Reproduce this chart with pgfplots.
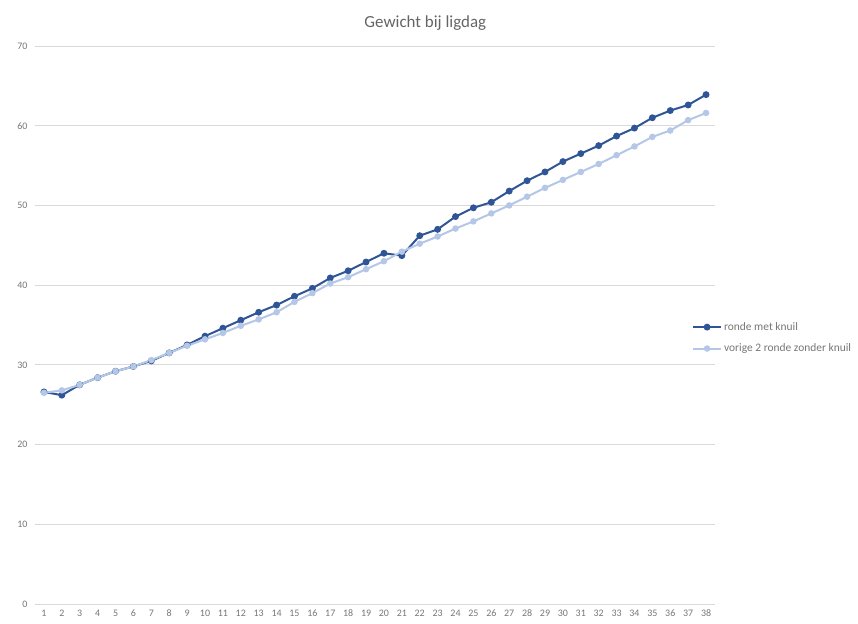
\documentclass[border=0pt]{standalone}
\usepackage{fontspec}
\setmainfont{Carlito}
\usepackage{pgfplots}
\pgfplotsset{compat=1.18}
\definecolor{darkser}{RGB}{47,85,151}
\definecolor{lightser}{RGB}{180,199,231}
\definecolor{gridgray}{RGB}{217,217,217}
\definecolor{labgray}{RGB}{118,118,118}
\begin{document}
\begin{tikzpicture}[x=1bp,y=1bp]
\begin{axis}[
    scale only axis,
    width=680bp,height=558bp,
    xmin=0.5,xmax=38.5,
    ymin=0,ymax=70,
    ytick={0,10,...,70},
    xtick={1,...,38},
    axis line style={draw=none},
    major tick length=0pt,
    ymajorgrids,
    grid style={gridgray,line width=0.9bp},
    tick label style={
        /pgf/number format/assume math mode=true,
        font=\fontsize{10}{12}\selectfont,
        text=labgray
    },
    xticklabel style={yshift=-2bp,text height=7bp,text depth=0bp},
    yticklabel style={xshift=-4bp},
    title={Gewicht bij ligdag},
    title style={font=\fontsize{17}{20}\selectfont,text=labgray!85!black,
        at={(0.574,1)},yshift=6bp},
    legend cell align=left,
    legend style={
        at={(0.966,0.477)},anchor=west,
        draw=none,fill=none,
        font=\fontsize{11.5}{13}\selectfont,text=labgray,
        row sep=8bp,
        inner sep=0pt,
    },
    legend image code/.code={
        \draw[mark repeat=2,mark phase=2] plot coordinates {(0bp,0bp) (14bp,0bp) (28bp,0bp)};
    },
]
\addplot[color=darkser,line width=2bp,mark=*,mark size=2.4bp] coordinates {
    (1,26.6) (2,26.2) (3,27.5) (4,28.4) (5,29.2) (6,29.8) (7,30.5) (8,31.5)
    (9,32.5) (10,33.6) (11,34.6) (12,35.6) (13,36.6) (14,37.5) (15,38.6)
    (16,39.6) (17,40.9) (18,41.8) (19,42.9) (20,44.0) (21,43.7) (22,46.2)
    (23,47.0) (24,48.6) (25,49.7) (26,50.4) (27,51.8) (28,53.1) (29,54.2)
    (30,55.5) (31,56.5) (32,57.5) (33,58.7) (34,59.7) (35,61.0) (36,61.9)
    (37,62.6) (38,63.9)
};
\addlegendentry{ronde met knuil}
\addplot[color=lightser,line width=2bp,mark=*,mark size=2.2bp] coordinates {
    (1,26.5) (2,26.8) (3,27.5) (4,28.4) (5,29.2) (6,29.8) (7,30.6) (8,31.5)
    (9,32.4) (10,33.2) (11,34.0) (12,34.9) (13,35.7) (14,36.6) (15,37.9)
    (16,39.0) (17,40.2) (18,41.0) (19,42.0) (20,43.0) (21,44.2) (22,45.2)
    (23,46.1) (24,47.1) (25,48.0) (26,49.0) (27,50.0) (28,51.1) (29,52.2)
    (30,53.2) (31,54.2) (32,55.2) (33,56.3) (34,57.4) (35,58.6) (36,59.4)
    (37,60.7) (38,61.6)
};
\addlegendentry{vorige 2 ronde zonder knuil}
\end{axis}
\pgfresetboundingbox
\path (-35bp,-20bp) rectangle (823bp,604bp);
\end{tikzpicture}
\end{document}
